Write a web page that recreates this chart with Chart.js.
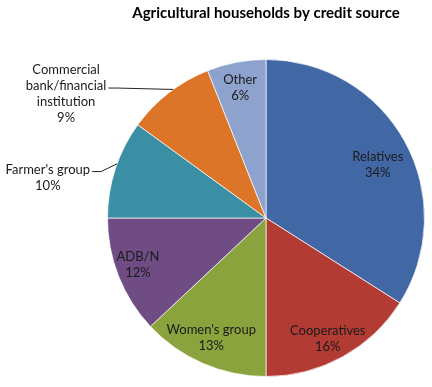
<!DOCTYPE html>
<html>
<head>
<meta charset="utf-8">
<script src="https://cdn.jsdelivr.net/npm/chart.js@4"></script>
<style>
  body { margin: 0; background: #ffffff; }
  #wrap { width: 432px; height: 387px; }
</style>
</head>
<body>
<div id="wrap"><canvas id="myChart" width="432" height="387"></canvas></div>
<script>
/*Pie chart Agricultural households by credit source*/
const categories = ["Relatives", "Cooperatives", "Women's group", "ADB/N",
                    "Farmer's group", "Commercial bank/financial institution", "Other"];
const shares = [34, 16, 13, 12, 10, 9, 6];
const labelLines = [["Relatives"], ["Cooperatives"], ["Women's group"], ["ADB/N"],
                    ["Farmer's group"], ["Commercial", "bank/financial", "institution"], ["Other"]];
const sliceColors = ["#4168a5", "#b23b34", "#8aa33d", "#6f4c84", "#3b8fa4", "#dd7528", "#8da2cd"];

// where each label sits: fraction of radius, angle shift (deg) from slice middle
const placement = [
  { r: 0.78, da: 3.5 },
  { r: 0.855, da: 1.7 },
  { r: 0.83, da: 1.2 },
  { r: 0.86, da: 1.6 },
  { r: 1.40, da: -7.5, leader: true },
  { r: 1.484, da: -20.4, leader: true },
  { r: 0.84, da: -0.4 },
];

const sliceLabels = {
  id: "sliceLabels",
  afterDatasetsDraw(chart) {
    const ctx = chart.ctx;
    const meta = chart.getDatasetMeta(0);
    const total = shares.reduce((a, b) => a + b, 0);
    ctx.save();
    ctx.font = "13px Lato";
    ctx.fillStyle = "#1b1b1b";
    ctx.textAlign = "center";
    ctx.textBaseline = "middle";
    meta.data.forEach((arc, i) => {
      const p = arc.getProps(["x", "y", "startAngle", "endAngle", "outerRadius"], true);
      const mid = (p.startAngle + p.endAngle) / 2;
      const pl = placement[i];
      const a = mid + pl.da * Math.PI / 180;
      const cx = p.x + Math.cos(a) * p.outerRadius * pl.r;
      const cy = p.y + Math.sin(a) * p.outerRadius * pl.r;
      const lines = labelLines[i].concat([Math.round(shares[i] / total * 100) + "%"]);
      const lh = 16;
      const top = cy - (lines.length - 1) * lh / 2;
      lines.forEach((t, k) => ctx.fillText(t, cx, top + k * lh));
      if (pl.leader) {
        const w = Math.max(...lines.map(t => ctx.measureText(t).width));
        const sx = cx + w / 2 + 2;
        const sy = cy - 6;
        const ea = mid + 2 * Math.PI / 180;
        const ex = p.x + Math.cos(ea) * p.outerRadius;
        const ey = p.y + Math.sin(ea) * p.outerRadius;
        ctx.beginPath();
        ctx.strokeStyle = "#222";
        ctx.lineWidth = 1;
        ctx.moveTo(sx, sy);
        ctx.lineTo(sx + 9, sy);
        ctx.lineTo(ex, ey);
        ctx.stroke();
      }
    });
    ctx.restore();
  }
};

const data = {
  labels: categories,
  datasets: [
    {
      data: shares,
      backgroundColor: sliceColors,
      borderColor: "rgba(255, 255, 255, 0.7)",
      borderWidth: 1,
    },
  ],
};

const config = {
  type: "pie",
  data: data,
  options: {
    responsive: false,
    animation: false,
    devicePixelRatio: 1,
    layout: {
      padding: { top: 0, left: 107, right: 7, bottom: 10 },
    },
    plugins: {
      legend: { display: false },
      tooltip: { enabled: false },
      title: {
        display: true,
        text: "Agricultural households by credit source",
        color: "#000",
        font: { family: "Lato", size: 15, weight: "bold" },
        padding: { top: 4, bottom: 37 },
      },
    },
  },
  plugins: [sliceLabels],
};

var myChart = new Chart(document.getElementById("myChart"), config);
</script>
</body>
</html>
